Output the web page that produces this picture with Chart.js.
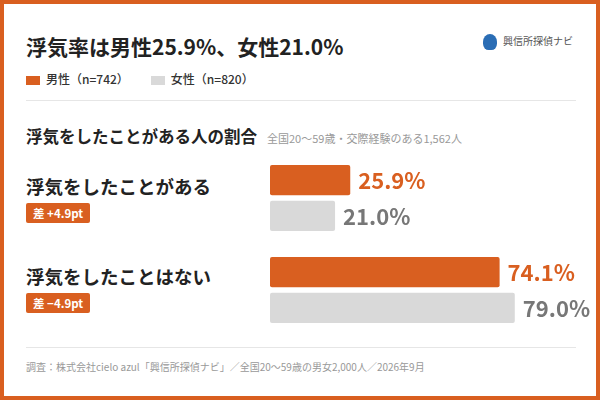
<!DOCTYPE html>
<html><head><meta charset="utf-8">
<script src="https://cdn.jsdelivr.net/npm/chart.js@4"></script>
<style>
html,body{margin:0;padding:0}
body{width:600px;height:400px;position:relative;overflow:hidden;font-family:"Noto Sans CJK JP","Noto Sans",sans-serif;background:#fff}
.frame{position:absolute;inset:0;border:4px solid #D95F20;box-sizing:border-box}
.abs{position:absolute;white-space:nowrap}
.title{left:26px;top:31px;font-size:21px;font-weight:700;color:#222}
.legend{left:26px;top:70px;font-size:12px;color:#333;font-weight:500}
.legend span.sw{display:inline-block;width:14px;height:9px;vertical-align:middle;margin-right:6px}
.hr{position:absolute;left:26px;width:550px;height:1px;background:#e6e6e6}
.sub{left:26px;top:124px;font-size:16.5px;font-weight:700;color:#222}
.sub small{font-size:11px;font-weight:400;color:#999;margin-left:10px}
.lab{left:26px;font-size:18.5px;font-weight:700;color:#222}
.badge{left:26px;background:#D95F20;color:#fff;font-size:11.5px;font-weight:700;padding:2px 7px;border-radius:2px}
.foot{left:26px;top:359px;font-size:10px;color:#999}
.logo{left:483px;top:33px;font-size:10px;color:#555}
.logo i{display:inline-block;width:14px;height:16px;background:#2a6db5;border-radius:50% 50% 40% 40%;vertical-align:middle;margin-right:6px}
#wrap{position:absolute;left:270px;top:152px;width:330px;height:184px}
</style></head><body>
<div class="frame"></div>
<div class="abs title">浮気率は男性25.9%、女性21.0%</div>
<div class="abs logo"><i></i>興信所探偵ナビ</div>
<div class="abs legend"><span class="sw" style="background:#D95F20"></span>男性（n=742）<span class="sw" style="background:#d9d9d9;margin-left:22px"></span>女性（n=820）</div>
<div class="hr" style="top:100px"></div>
<div class="abs sub">浮気をしたことがある人の割合<small>全国20～59歳・交際経験のある1,562人</small></div>
<div class="abs lab" style="top:173px">浮気をしたことがある</div>
<div class="abs badge" style="top:203px">差 +4.9pt</div>
<div class="abs lab" style="top:263px">浮気をしたことはない</div>
<div class="abs badge" style="top:293px">差 −4.9pt</div>
<div class="hr" style="top:347px"></div>
<div class="abs foot">調査：株式会社cielo azul「興信所探偵ナビ」／全国20～59歳の男女2,000人／2026年9月</div>
<div id="wrap"><canvas id="c"></canvas></div>
<script>
const categories = ["浮気をしたことがある", "浮気をしたことはない"];
const maleValues = [25.9, 74.1];
const femaleValues = [21.0, 79.0];
const seriesNames = ["男性", "女性"];

const valueLabels = {
  id: "valueLabels",
  afterDatasetsDraw(chart) {
    const ctx = chart.ctx;
    ctx.save();
    ctx.textBaseline = "middle";
    ctx.font = "700 22px 'Noto Sans CJK JP', sans-serif";
    chart.data.datasets.forEach((ds, i) => {
      chart.getDatasetMeta(i).data.forEach((bar, j) => {
        ctx.fillStyle = i === 0 ? "#D95F20" : "#777";
        ctx.fillText(ds.data[j].toFixed(1) + "%", bar.x + 8, bar.y + 1);
      });
    });
    ctx.restore();
  }
};

new Chart(document.getElementById("c"), {
  type: "bar",
  data: {
    labels: categories,
    datasets: [
      { label: seriesNames[0], data: maleValues, backgroundColor: "#D95F20" },
      { label: seriesNames[1], data: femaleValues, backgroundColor: "#d9d9d9" }
    ]
  },
  options: {
    indexAxis: "y",
    responsive: true,
    maintainAspectRatio: false,
    animation: false,
    layout: { padding: 0 },
    categoryPercentage: 0.78,
    barPercentage: 0.84,
    borderRadius: 2,
    borderSkipped: false,
    plugins: { legend: { display: false }, tooltip: { enabled: false } },
    scales: {
      x: { min: 0, max: 106.5, display: false },
      y: { display: false }
    }
  },
  plugins: [valueLabels]
});
</script>
</body></html>
